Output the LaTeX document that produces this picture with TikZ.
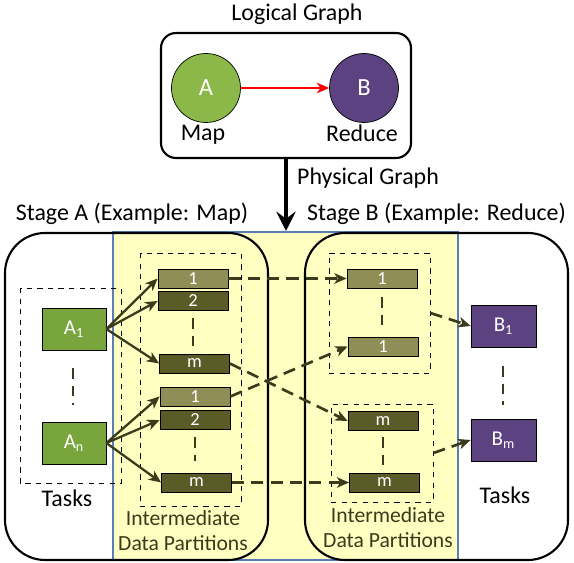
\documentclass[tikz,border=0pt]{standalone}
\usepackage{fontspec}
\setmainfont{Carlito}
\usepackage{tikz}
\usetikzlibrary{arrows.meta,calc,positioning}
\definecolor{mapgreen}{HTML}{8CB84A}
\definecolor{taskgreen}{HTML}{78A63C}
\definecolor{redpurple}{HTML}{5C4280}
\definecolor{partlight}{HTML}{8E8E56}
\definecolor{partdark}{HTML}{5B5B27}
\definecolor{olive}{HTML}{3A3A1C}
\definecolor{paleyellow}{HTML}{FFFFC2}
\definecolor{edgeblue}{HTML}{5B7DB8}
\tikzset{%
	opnode/.style   = {draw, circle, minimum size = 1.38cm, text=white, font=\fontsize{14}{16}\selectfont}, % Logical operator
	stagebox/.style = {draw, line width=1.2pt, rounded corners=0.8cm}, % Stage
	taskA/.style    = {draw, rectangle, fill=taskgreen, minimum width=1.28cm, minimum height=0.84cm, text=white, font=\large},
	taskB/.style    = {draw, rectangle, fill=redpurple, minimum width=1.3cm, minimum height=0.84cm, text=white, font=\large},
	part/.style     = {draw, rectangle, fill=partdark, minimum width=1.4cm, minimum height=0.38cm, inner sep=0pt, text=white, font=\fontsize{10.5}{12}\selectfont},
	partfirst/.style= {part, fill=partlight},
	group/.style    = {draw, dashed, rectangle, inner sep=0pt},
	gap/.style      = {line width=1.6pt, dash pattern=on 6pt off 4pt, olive}, % Vertical dots
	label/.style    = {font=\fontsize{13.6}{16.5}\selectfont},
	caption/.style  = {olive, align=center, font=\fontsize{12.3}{14.2}\selectfont}, % Partition caption
	shuffle/.style  = {->, line width=1.5pt, dash pattern=on 7pt off 4pt, olive},
	spread/.style   = {->, line width=1.3pt, olive},
	>={Stealth[length=7pt,width=6pt,inset=2pt]},
}
\begin{document}
\begin{tikzpicture}
		\useasboundingbox (0,0) rectangle (11.48,-11.26);
		% Logical graph
		\node[label] (lgtitle) at (5.94,-0.28) {Logical Graph};
		\draw[line width=1.2pt, rounded corners=0.3cm] (3.22,-0.66) rectangle (8.22,-3.16);
		\coordinate (lgbottom) at (5.72,-3.16);
		\node[opnode, fill=mapgreen] (A) at (4.12,-1.76) {A};
		\node[opnode, fill=redpurple] (B) at (7.28,-1.76) {B};
		\node[label] (map) at (4.06,-2.70) {Map};
		\node[label] (reduce) at (7.24,-2.66) {Reduce};
		\draw[->, red, line width=1pt] (A) -- (B);
		% Physical graph
		\fill[paleyellow] (2.26,-4.64) rectangle (9.16,-11.20);
		\draw[edgeblue, line width=0.6pt] (2.26,-4.64) rectangle (9.16,-11.20);
		\coordinate (pgtop) at (5.72,-4.62);
		\draw[-{Stealth[length=11pt,width=11pt,inset=4pt]}, line width=2.4pt] (lgbottom) -- (pgtop);
		\node[label, anchor=west] (pgtitle) at (5.82,-3.56) {Physical Graph};
		\node[label] (stageA) at (2.64,-4.28) {Stage A (Example: Map)};
		\node[label] (stageB) at (8.73,-4.28) {Stage B (Example: Reduce)};
		\draw[stagebox] (0.10,-4.66) rectangle (5.36,-11.20);
		\draw[stagebox] (6.10,-4.66) rectangle (11.36,-11.20);
		% Stage A tasks
		\draw[group] (0.40,-5.76) rectangle (2.42,-9.66);
		\node[taskA] (A1) at (1.48,-6.58) {A\textsubscript{1}};
		\node[taskA] (An) at (1.48,-8.86) {A\textsubscript{n}};
		\draw[gap] (1.46,-7.36) -- (1.46,-8.10);
		\node[label] (tasksA) at (1.34,-9.96) {Tasks};
		% Stage A partitions
		\draw[group] (2.80,-5.06) rectangle (4.82,-10.12);
		\node[partfirst] (pa1) at (3.86,-5.57) {1};
		\node[part] (pa2) at (3.86,-6.02) {2};
		\node[part] (pam) at (3.89,-7.27) {m};
		\node[partfirst] (pb1) at (3.90,-7.93) {1};
		\node[part] (pb2) at (3.90,-8.40) {2};
		\node[part] (pbm) at (3.93,-9.65) {m};
		\draw[gap] (pa2) ++(0,-0.34) -- ++(0,-0.56);
		\draw[gap] (pb2) ++(0,-0.34) -- ++(0,-0.48);
		\node[caption] (interA) at (3.66,-10.62) {Intermediate\\Data Partitions};
		% Stage B partitions
		\node[group, minimum width=2.02cm, minimum height=2.40cm] (qa) at (7.59,-6.26) {};
		\node[partfirst] (qa1) at (7.64,-5.57) {1};
		\node[partfirst] (qa2) at (7.66,-6.93) {1};
		\draw[gap] (7.64,-5.94) -- (7.64,-6.50);
		\node[group, minimum width=2.04cm, minimum height=1.96cm] (qb) at (7.64,-9.06) {};
		\node[part] (qbm1) at (7.66,-8.42) {m};
		\node[part] (qbm2) at (7.69,-9.65) {m};
		\draw[gap] (7.66,-8.74) -- (7.66,-9.30);
		\node[caption] (interB) at (7.76,-10.56) {Intermediate\\Data Partitions};
		% Stage B tasks
		\node[taskB] (B1) at (10.07,-6.52) {B\textsubscript{1}};
		\node[taskB] (Bm) at (10.07,-8.80) {B\textsubscript{m}};
		\draw[gap] (10.06,-7.32) -- (10.06,-8.10);
		\node[label] (tasksB) at (10.10,-9.90) {Tasks};
		% Map output
		\foreach \p in {pa1,pa2,pam} \draw[spread] (A1.east) -- (\p.west);
		\foreach \p in {pb1,pb2,pbm} \draw[spread] (An.east) -- (\p.west);
		% Shuffle
		\draw[shuffle] (pa1) -- (qa1);
		\draw[shuffle] (pam.east) -- (qbm1.west);
		\draw[shuffle] (pb1.east) -- (qa2.west);
		\draw[shuffle] (pbm) -- (qbm2);
		\draw[shuffle] (qa.east) -- (B1.west);
		\draw[shuffle] (qb.east) -- (Bm.west);
		\end{tikzpicture}
\end{document}
